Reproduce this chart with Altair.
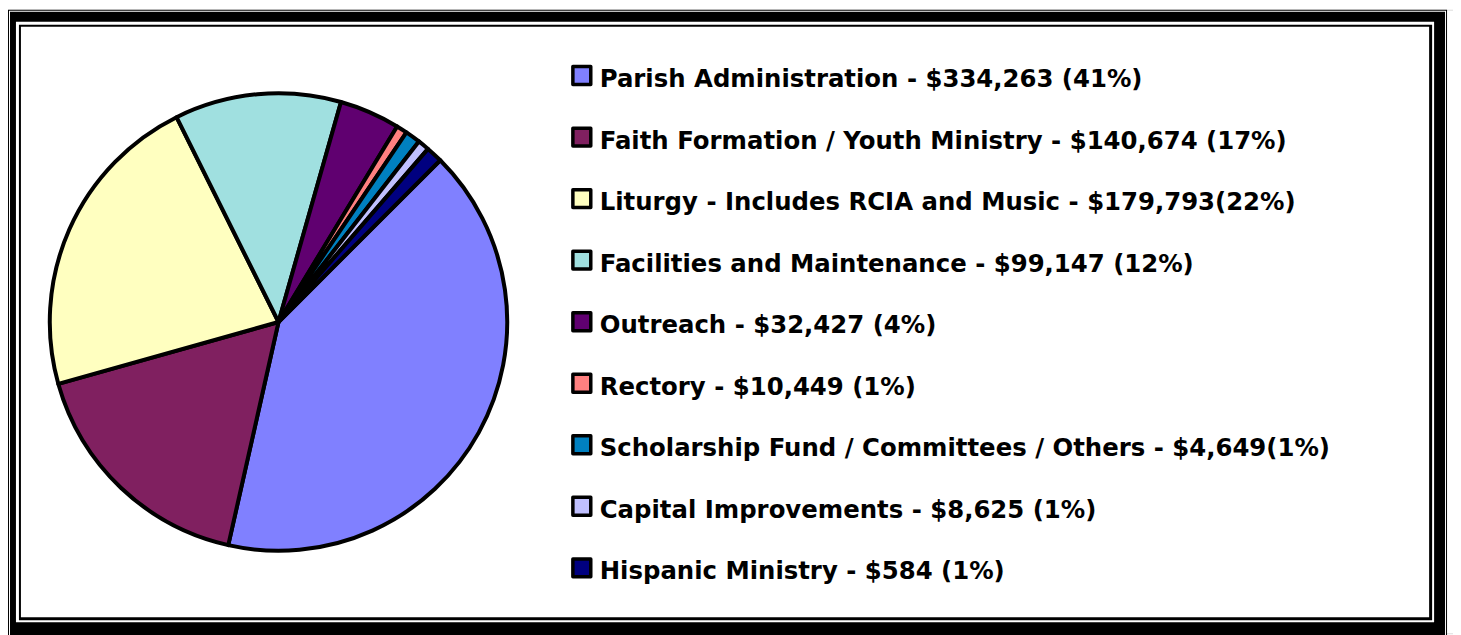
import altair as alt
import pandas as pd
import math

categories = [
    "Parish Administration",
    "Faith Formation / Youth Ministry",
    "Liturgy - Includes RCIA and Music",
    "Facilities and Maintenance",
    "Outreach",
    "Rectory",
    "Scholarship Fund / Committees / Others",
    "Capital Improvements",
    "Hispanic Ministry",
]
# slice shares as drawn in the picture (percent of the circle)
shares = [41.0, 17.1, 22.0, 11.75, 4.27, 0.77, 1.07, 0.82, 1.16]
labels = [
    "Parish Administration - $334,263 (41%)",
    "Faith Formation / Youth Ministry - $140,674 (17%)",
    "Liturgy - Includes RCIA and Music - $179,793(22%)",
    "Facilities and Maintenance - $99,147 (12%)",
    "Outreach - $32,427 (4%)",
    "Rectory - $10,449 (1%)",
    "Scholarship Fund / Committees  / Others - $4,649(1%)",
    "Capital Improvements - $8,625 (1%)",
    "Hispanic Ministry - $584  (1%)",
]
colors = ["#8080FF", "#802060", "#FFFFC0", "#A0E0E0", "#600070",
          "#FF8080", "#0080C0", "#C0C0FF", "#000080"]

df = pd.DataFrame({
    "cat": categories,
    "share": shares,
    "label": labels,
    "idx": list(range(len(categories))),
})

W, H = 1453, 627
start = math.radians(45)

one = pd.DataFrame({"a": [0]})


def box(x, x2, y, y2, fill):
    return alt.Chart(one).mark_rect(fill=fill, strokeWidth=0).encode(
        x=alt.value(x), x2=alt.value(x2), y=alt.value(y), y2=alt.value(y2)
    )


frame = [
    box(0, 1447, 0, 660, "black"),
    box(1, 1446, 1, 660, "white"),
    box(2, 1445, 2, 660, "black"),
    box(8, 1434, 12, 616, "white"),
    box(11, 1432, 15, 614, "black"),
    box(13, 1429, 17, 611, "white"),
]

color_scale = alt.Scale(domain=categories, range=colors)

pie = alt.Chart(df).mark_arc(
    radius=230, stroke="black", strokeWidth=4, strokeJoin="round"
).encode(
    theta=alt.Theta("share:Q", stack=True,
                    scale=alt.Scale(range=[start, start + 2 * math.pi])),
    color=alt.Color("cat:N", scale=color_scale, legend=None),
    order=alt.Order("idx:Q"),
    x=alt.value(272),
    y=alt.value(314),
)

yscale = alt.Scale(domain=[0, 8], range=[77.7, 572.7])

squares = alt.Chart(df).mark_point(
    shape="square", filled=True, size=324, stroke="black", strokeWidth=3.5,
    strokeJoin="round", opacity=1, yOffset=-11.5
).encode(
    x=alt.value(577),
    y=alt.Y("idx:Q", scale=yscale, axis=None),
    fill=alt.Fill("cat:N", scale=color_scale, legend=None),
)

texts = alt.Chart(df).mark_text(
    align="left", baseline="alphabetic", font="DejaVu Sans",
    fontWeight="bold", fontSize=24.5, color="black"
).encode(
    x=alt.value(595),
    y=alt.Y("idx:Q", scale=yscale, axis=None),
    text="label:N",
)

chart = alt.layer(*frame, pie, squares, texts).properties(
    width=W, height=H, padding=0, autosize=alt.AutoSizeParams(type="none")
).configure_view(stroke=None).configure(background="white")

chart.save("out.html", embed_options={"renderer": "svg", "actions": False})
